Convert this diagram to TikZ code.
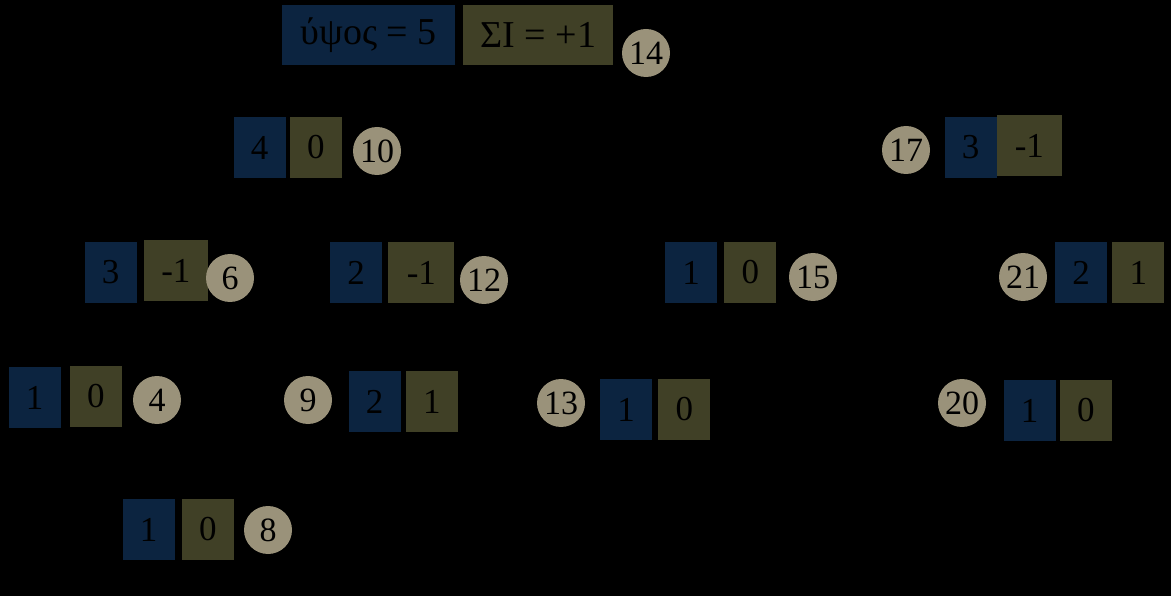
\documentclass[tikz,border=0pt]{standalone}
\usepackage{fontspec}
\setmainfont{Liberation Serif}
\usetikzlibrary{positioning}
\definecolor{hblue}{RGB}{12, 36, 64}
\definecolor{bolive}{RGB}{64, 64, 38}
\definecolor{keysand}{RGB}{154, 146, 122}

\begin{document}
\begin{tikzpicture}[
  x=1pt, y=-1pt,
  node distance=6pt,
  hgt/.style={rectangle, fill=hblue, minimum width=52pt, minimum height=61pt,
              inner sep=0pt, font=\fontsize{35}{40}\selectfont},
  bal/.style={hgt, fill=bolive},
  key/.style={circle, fill=keysand, minimum size=48pt, inner sep=0pt,
              font=\fontsize{34}{40}\selectfont},
  rootbox/.style={minimum height=60pt, font=\fontsize{38}{44}\selectfont}
]
  \fill[black] (0,0) rectangle (1171,596);
  % root
  \node[hgt, rootbox, minimum width=173pt] (h14) at (368.5,35) {ύψος = 5};
  \node[bal, rootbox, minimum width=150pt, right=8pt of h14] (b14) {ΣΙ = +1};
  \node[key] (k14) at (646,53) {14};
  % level 1
  \node[hgt] (h10) at (259.5,147.5) {4};
  \node[bal, right=4pt of h10] (b10) {0};
  \node[key] (k10) at (377,151) {10};
  \node[key] (k17) at (906,150) {17};
  \node[hgt] (h17) at (970.5,147.5) {3};
  \node[bal, minimum width=65pt, right=0pt of h17, yshift=2pt] (b17) {-1};
  % level 2
  \node[hgt] (h6) at (110.5,272.5) {3};
  \node[bal, minimum width=64pt, right=7pt of h6, yshift=2pt] (b6) {-1};
  \node[key] (k6) at (230,278) {6};
  \node[hgt] (h12) at (356,272.5) {2};
  \node[bal, minimum width=66pt, right=6pt of h12] (b12) {-1};
  \node[key] (k12) at (484,280) {12};
  \node[hgt] (h15) at (691,272.5) {1};
  \node[bal, right=7pt of h15] (b15) {0};
  \node[key] (k15) at (813,277) {15};
  \node[key] (k21) at (1023,277) {21};
  \node[hgt] (h21) at (1081,272.5) {2};
  \node[bal, right=5pt of h21] (b21) {1};
  % level 3
  \node[hgt] (h4) at (34.5,397.5) {1};
  \node[bal, right=9pt of h4, yshift=1pt] (b4) {0};
  \node[key] (k4) at (157,400) {4};
  \node[key] (k9) at (308,400) {9};
  \node[hgt] (h9) at (374.5,401.5) {2};
  \node[bal, right=5pt of h9] (b9) {1};
  \node[key] (k13) at (561,403) {13};
  \node[hgt] (h13) at (626,409.5) {1};
  \node[bal, right=6pt of h13] (b13) {0};
  \node[key] (k20) at (962,403) {20};
  \node[hgt] (h20) at (1029.5,410.5) {1};
  \node[bal, right=4pt of h20] (b20) {0};
  % level 4
  \node[hgt] (h8) at (148.5,529.5) {1};
  \node[bal, right=7pt of h8] (b8) {0};
  \node[key] (k8) at (268,530) {8};
\end{tikzpicture}
\end{document}
